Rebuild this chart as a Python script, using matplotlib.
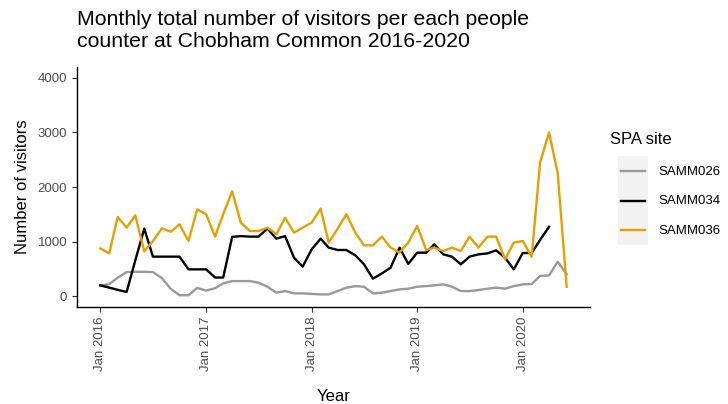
import numpy as np
import pandas as pd
import matplotlib
matplotlib.use('Agg')
import matplotlib.pyplot as plt
import matplotlib.dates as mdates

plt.rcParams['font.family'] = ['Liberation Sans', 'DejaVu Sans']

# monthly totals (first month = Jan 2016)
startMonth = '2016-01-01'
siteNames = ['SAMM026', 'SAMM034', 'SAMM036']
siteColors = ['#999999', '#000000', '#E69F00']

samm026 = [190, 220, 337, 440, 445, 445, 440, 330, 130, 15, 15, 150,
           100, 145, 233, 275, 275, 275, 246, 172, 62, 92, 50, 50,
           40, 31, 31, 92, 154, 183, 172, 50, 62, 92, 123, 136,
           172, 183, 196, 215, 172, 92, 92, 110, 136, 154, 136, 183,
           215, 220, 370, 380, 630, 400]
samm034 = [196, 155, 115, 75, 655, 1237, 723, 723, 723, 723, 490, 490,
           490, 340, 340, 1085, 1100, 1090, 1090, 1237, 1053, 1100, 704, 540,
           857, 1053, 888, 845, 845, 747, 582, 319, 416, 521, 888, 590,
           796, 796, 949, 765, 723, 582, 723, 765, 783, 838, 705, 490,
           790, 790, 1030, 1270]
samm036 = [875, 783, 1450, 1255, 1480, 820, 1010, 1240, 1180, 1315, 1010, 1590,
           1500, 1090, 1500, 1920, 1346, 1193, 1193, 1255, 1132, 1438, 1163, 1255,
           1346, 1603, 980, 1240, 1500, 1163, 930, 930, 1090, 890, 800, 980,
           1285, 845, 888, 826, 888, 826, 1090, 888, 1090, 1090, 673, 980,
           1010, 720, 2450, 3000, 2250, 170]

yTicks = [0, 1000, 2000, 3000, 4000]
xTickYears = [2016, 2017, 2018, 2019, 2020]

seriesList = [samm026, samm034, samm036]

fig = plt.figure(figsize=(7.28, 4.04), dpi=100)
ax = fig.add_axes([77/728, 1-307/404, (590-77)/728, (307-67)/404])

for name, col, vals in zip(siteNames, siteColors, seriesList):
    dates = pd.date_range(startMonth, periods=len(vals), freq='MS')
    ax.plot(dates, vals, color=col, lw=1.7, label=name, solid_joinstyle='round')

# ggplot style 5% expansion of the date range
allDates = pd.date_range(startMonth, periods=max(len(s) for s in seriesList), freq='MS')
span = allDates[-1] - allDates[0]
ax.set_xlim(allDates[0] - span*0.05, allDates[-1] + span*0.05)
ax.set_ylim(-200, 4200)

ax.set_yticks(yTicks)
ax.set_xticks([pd.Timestamp(str(y) + '-01-01') for y in xTickYears])
ax.xaxis.set_major_formatter(mdates.DateFormatter('%b %Y'))
ax.tick_params(axis='x', labelrotation=90)
ax.tick_params(labelsize=9.5, labelcolor='#4D4D4D', color='#333333', length=3.5, width=0.8)

for s in ['top', 'right']:
    ax.spines[s].set_visible(False)
for s in ['left', 'bottom']:
    ax.spines[s].set_linewidth(1.0)

ax.set_xlabel('Year', fontsize=12)
ax.set_ylabel('Number of visitors', fontsize=12)
ax.xaxis.set_label_coords(0.5, -0.34)
ax.yaxis.set_label_coords(-0.092, 0.5)

fig.text(77/728, 1-10/404, 'Monthly total number of visitors per each people\ncounter at Chobham Common 2016-2020',
         fontsize=15.3, va='top', ha='left', linespacing=1.22)

# legend drawn like ggplot (grey key boxes)
fig.text(610/728, 1-140/404, 'SPA site', fontsize=12, va='center', ha='left')
lax = fig.add_axes([618/728, 1-245/404, 30/728, 89/404])
lax.set_facecolor('#F2F2F2')
for i, (name, col) in enumerate(zip(siteNames, siteColors)):
    yy = len(siteNames) - 1 - i
    lax.plot([0.1, 0.9], [yy, yy], color=col, lw=1.7)
    fig.text(658/728, 1-(172 + 29.5*i)/404, name, fontsize=9.5, va='center', ha='left')
lax.set_xlim(0, 1)
lax.set_ylim(-0.5, 2.5)
lax.set_xticks([])
lax.set_yticks([])
for s in lax.spines.values():
    s.set_visible(False)

fig.savefig('out.png', dpi=100)
